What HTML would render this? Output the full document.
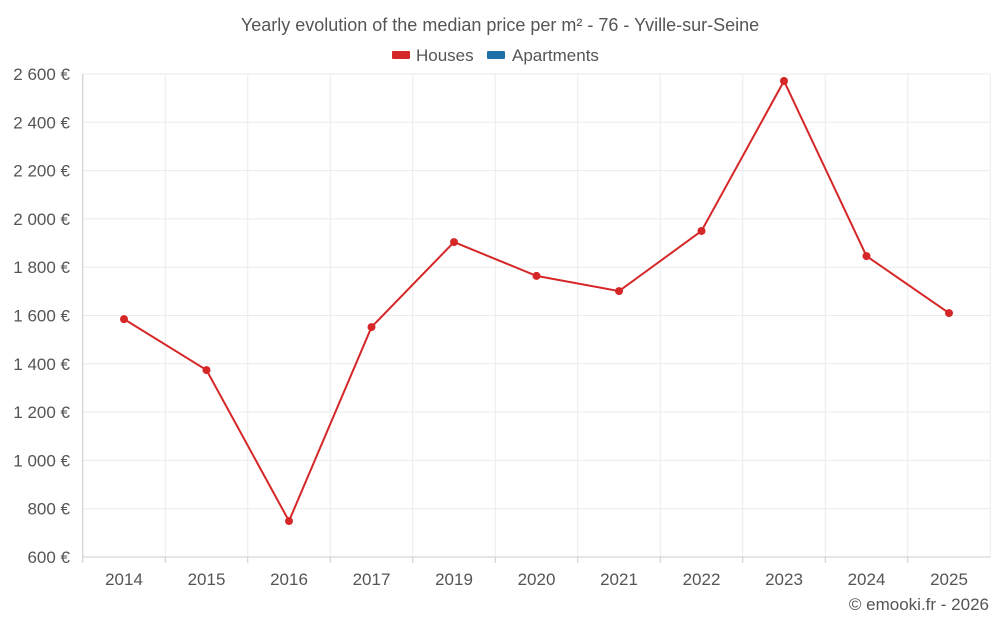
<!DOCTYPE html>
<html><head><meta charset="utf-8">
<style>
html,body{margin:0;padding:0;background:#fff;}
svg{display:block;font-family:"Liberation Sans",sans-serif;}
</style></head>
<body>
<svg id="chart" width="1000" height="625" viewBox="0 0 1000 625">
  <text x="500" y="31" text-anchor="middle" font-size="18" fill="#555">Yearly evolution of the median price per m² - 76 - Yville-sur-Seine</text>
  <g>
    <g>
      <rect x="392" y="51" width="18" height="8" fill="#d62728" rx="1"></rect>
      <text x="416" y="61" font-size="17" fill="#555">Houses</text>
    </g>
    <g>
      <rect x="487" y="51" width="18" height="8" fill="#1f6fa8" rx="1"></rect>
      <text x="512" y="61" font-size="17" fill="#555">Apartments</text>
    </g>
  </g>
  <g id="grid"></g>
  <g id="axes"></g>
  <g id="series"></g>
  <text x="989" y="610" text-anchor="end" font-size="17" fill="#555">© emooki.fr - 2026</text>
</svg>
<script>
const categories = ["2014","2015","2016","2017","2019","2020","2021","2022","2023","2024","2025"];
const housesValues = [1585,1374,749,1552,1904,1764,1701,1950,2571,1846,1610];
const yTicks = [600,800,1000,1200,1400,1600,1800,2000,2200,2400,2600];
const yTickLabels = ["600 €","800 €","1 000 €","1 200 €","1 400 €","1 600 €","1 800 €","2 000 €","2 200 €","2 400 €","2 600 €"];

(function(){
const NS = "http://www.w3.org/2000/svg";
const plotLeft = 82.75, plotRight = 990.25, plotTop = 74, plotBottom = 557;
const yMin = 600, yMax = 2600;
const band = (plotRight - plotLeft) / categories.length;
function xPos(i){ return plotLeft + band * (i + 0.5); }
function yPos(v){ return plotBottom - (v - yMin) / (yMax - yMin) * (plotBottom - plotTop); }
function mk(tag, attrs, parent){
  const e = document.createElementNS(NS, tag);
  for (const k in attrs) e.setAttribute(k, attrs[k]);
  parent.appendChild(e); return e;
}
const grid = document.getElementById("grid");
const axes = document.getElementById("axes");
const series = document.getElementById("series");

yTicks.forEach((t, i) => {
  const y = yPos(t);
  const l = mk("line", {x1:plotLeft, x2:plotRight, y1:y, y2:y, stroke: i===0 ? "#ccc" : "#ebebeb", "stroke-width":1}, grid);
  
  
  const tx = mk("text", {x:70, y:y+6, "text-anchor":"end", "font-size":17, fill:"#555"}, axes);
  tx.textContent = yTickLabels[i];
  
  
});
for (let i = 0; i <= categories.length; i++) {
  const x = plotLeft + band * i;
  const l = mk("line", {x1:x, x2:x, y1:plotTop, y2:plotBottom, stroke:"#ebebeb", "stroke-width":1}, grid);
  
  
}
const yAxisLine = mk("line", {x1:plotLeft, x2:plotLeft, y1:plotTop, y2:plotBottom, stroke:"#ccc"}, axes);


categories.forEach((c, i) => {
  const tk = mk("line", {x1:plotLeft+band*i, x2:plotLeft+band*i, y1:plotBottom, y2:plotBottom+6, stroke:"#ccc"}, axes);
  
  
  const tx = mk("text", {x:xPos(i), y:585, "text-anchor":"middle", "font-size":17, fill:"#555"}, axes);
  tx.textContent = c;
  
  
});
const pts = housesValues.map((v, i) => xPos(i) + "," + yPos(v)).join(" ");
const line = mk("polyline", {points:pts, fill:"none", stroke:"#d62728", "stroke-width":2}, series);


housesValues.forEach((v, i) => {
  const p = mk("circle", {cx:xPos(i), cy:yPos(v), r:4, fill:"#d62728"}, series);
  
  
});
})();
</script>
</body></html>
